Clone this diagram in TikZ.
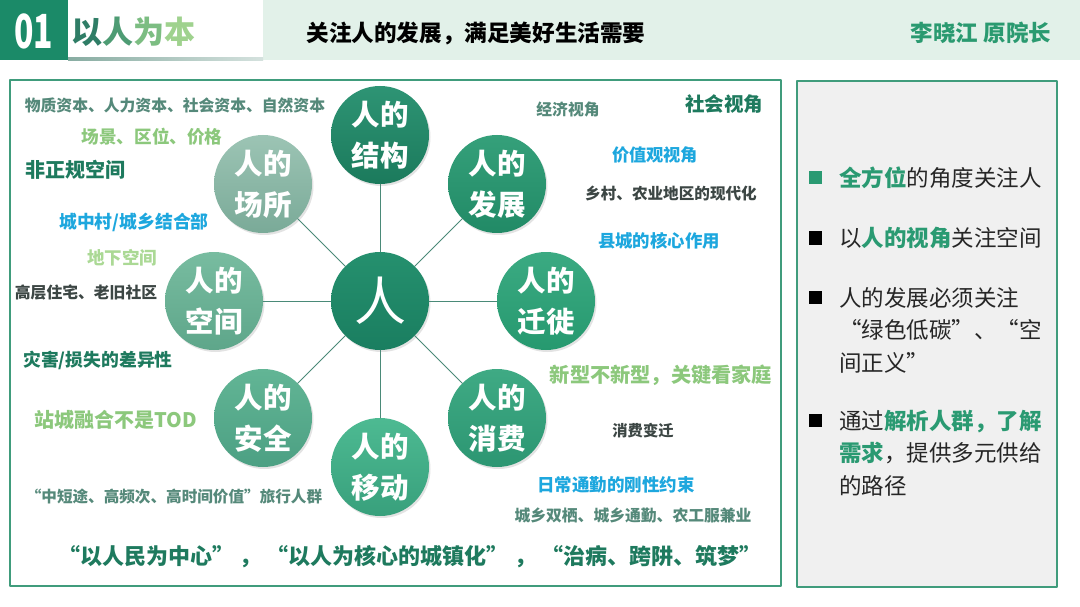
\documentclass[tikz,border=0pt]{standalone}
\usepackage{fontspec}
\setmainfont{Noto Sans CJK SC}
\usetikzlibrary{shadows}

\definecolor{hdgreen}{HTML}{1B8A68}
\definecolor{mint}{HTML}{E2F1E9}
\definecolor{frameG}{HTML}{409C7C}
\definecolor{panel}{HTML}{F0F0F0}
\definecolor{linkG}{HTML}{4A8A78}
\definecolor{tealD}{HTML}{1E7A5E}
\definecolor{grayG}{HTML}{55897A}
\definecolor{lightG}{HTML}{8CC87C}
\definecolor{paleG}{HTML}{ABD995}
\definecolor{skyB}{HTML}{1DA7DE}
\definecolor{darkT}{HTML}{3C4644}
\definecolor{keyG}{HTML}{2A9A72}
\definecolor{author}{HTML}{2A9A70}
% title letters, dark to light
\definecolor{tagA}{HTML}{2F7D66}\definecolor{tagB}{HTML}{4E9C74}
\definecolor{tagC}{HTML}{7CBD82}\definecolor{tagD}{HTML}{9FD28E}
% circle fills, top / bottom
\definecolor{renT}{HTML}{25906E}\definecolor{renB}{HTML}{1A7E60}
\definecolor{jgT}{HTML}{2E9474}\definecolor{jgB}{HTML}{1B7A5C}
\definecolor{fzT}{HTML}{35A07A}\definecolor{fzB}{HTML}{218A66}
\definecolor{qxT}{HTML}{3BAA82}\definecolor{qxB}{HTML}{26996F}
\definecolor{xfT}{HTML}{3FAA84}\definecolor{xfB}{HTML}{2C9672}
\definecolor{ydT}{HTML}{4DBA92}\definecolor{ydB}{HTML}{38A07C}
\definecolor{aqT}{HTML}{62B595}\definecolor{aqB}{HTML}{4CA083}
\definecolor{kjT}{HTML}{78BCA0}\definecolor{kjB}{HTML}{5EA68A}
\definecolor{csT}{HTML}{9CC4B4}\definecolor{csB}{HTML}{7AAA98}

\newcommand\fsz[1]{\fontsize{#1}{#1}\selectfont}

\tikzset{
  lab/.style 2 args={inner sep=0pt, text=#1, font=\bfseries\fsz{#2}},
  bub/.style={circle, minimum size=98pt, inner sep=0pt, top color=#1T, bottom color=#1B,
    text=white, align=center, font=\bfseries\fontsize{28.5}{41}\selectfont,
    drop shadow={opacity=0.22, shadow xshift=1.5pt, shadow yshift=-2pt}},
  link/.style={draw=linkG, line width=1pt},
  frame/.style={draw=frameG, line width=1.6pt},
  bullet/.style={minimum size=13pt, inner sep=0pt, fill=#1},
  note/.style={inner sep=0pt, anchor=west, align=left, text=black!85,
    font=\fontsize{22.5}{32.5}\selectfont},
}

\begin{document}
\begin{tikzpicture}[x=1pt, y=-1pt, line join=round, line cap=round]
  \useasboundingbox[fill=white] (0,0) rectangle (1080,607);

  % header
  \fill[hdgreen] (0,0) rectangle (68,60);
  \fill[mint] (263,0) rectangle (1080,60);
  \shade[left color=grayG!70, right color=grayG!25] (68,57.8) rectangle (263,60.5);
  \node[text=white, font=\bfseries\fsz{47}] (num) at (34,31) {\scalebox{0.68}[1]{01}};
  \node[inner sep=0pt, font=\bfseries\fsz{31}] (tag) at (133,32)
    {\textcolor{tagA}{以}\textcolor{tagB}{人}\textcolor{tagC}{为}\textcolor{tagD}{本}};
  \node[lab={black}{22.6}] (title) at (476,33) {关注人的发展，满足美好生活需要};
  \node[lab={author}{22.5}] (who) at (981,33) {李晓江 原院长};

  % frames
  \draw[frame] (10,80) rectangle (781,586);
  \draw[frame, fill=panel] (797,81) rectangle (1057,587);

  % circles
  \node[bub=ren, font=\fsz{52}] (ren) at (380,301) {人};
  \node[bub=jg] (jg) at (380,135) {人的\\结构};
  \node[bub=fz] (fz) at (497,184) {人的\\发展};
  \node[bub=qx] (qx) at (546,301) {人的\\迁徙};
  \node[bub=xf] (xf) at (497,418) {人的\\消费};
  \node[bub=yd] (yd) at (380,467) {人的\\移动};
  \node[bub=aq] (aq) at (263,418) {人的\\安全};
  \node[bub=kj] (kj) at (214,301) {人的\\空间};
  \node[bub=cs] (cs) at (263,184) {人的\\场所};
  \foreach \n in {jg,fz,qx,xf,yd,aq,kj,cs}
    \draw[link] (ren) -- (\n);

  % left labels
  \node[lab={grayG}{15.8}] (ziben) at (175,105) {物质资本、人力资本、社会资本、自然资本};
  \node[lab={lightG}{17.6}] (qujing) at (152,137) {场景、区位、价格};
  \node[lab={tealD}{20}] (fzg) at (75,170) {非正规空间};
  \node[lab={skyB}{17.8}] (czc) at (134,222) {城中村/城乡结合部};
  \node[lab={paleG}{17.5}] (dxkj) at (122,258) {地下空间};
  \node[lab={darkT}{15.8}] (gczz) at (86,292) {高层住宅、老旧社区};
  \node[lab={tealD}{17.8}] (zaihai) at (98,360) {灾害/损失的差异性};
  \node[lab={lightG}{20}] (tod) at (116,420) {站城融合不是TOD};
  \node[lab={grayG}{15.6}] (lvxing) at (174,497) {“中短途、高频次、高时间价值”旅行人群};

  % right labels
  \node[lab={grayG}{15.8}] (jingji) at (568,110) {经济视角};
  \node[lab={tealD}{19.5}] (shehui) at (724,104) {社会视角};
  \node[lab={skyB}{17.2}] (jiazhi) at (655,155) {价值观视角};
  \node[lab={darkT}{15.6}] (xiangcun) at (671,193) {乡村、农业地区的现代化};
  \node[lab={skyB}{17.4}] (xiancheng) at (659,241) {县城的核心作用};
  \node[lab={lightG}{20.2}] (jiating) at (661,375) {新型不新型，关键看家庭};
  \node[lab={darkT}{15.3}] (xiaofei) at (643,431) {消费变迁};
  \node[lab={skyB}{17.5}] (tongqin) at (616,485) {日常通勤的刚性约束};
  \node[lab={grayG}{15.8}] (shuangqi) at (633,515) {城乡双栖、城乡通勤、农工服兼业};

  % bottom line
  \node[lab={tealD}{22}] (slogan) at (410,557)
    {“以人民为中心”\ ，\ “以人为核心的城镇化”\ ，\ “治病、跨阱、筑梦”};

  % right panel
  \node[bullet=keyG] (b1) at (815,178) {};
  \node[bullet=black] (b2) at (815,238) {};
  \node[bullet=black] (b3) at (815,297) {};
  \node[bullet=black] (b4) at (815,420) {};
  \node[note] (t1) at (839,178) {\textcolor{keyG}{\bfseries 全方位}的角度关注人};
  \node[note] (t2) at (839,238) {以\textcolor{keyG}{\bfseries 人的视角}关注空间};
  \node[note] (t3) at (839,330) {人的发展必须关注\\“绿色低碳”、“空\\间正义”};
  \node[note] (t4) at (839,453) {通过\textcolor{keyG}{\bfseries 解析人群，了解}\\\textcolor{keyG}{\bfseries 需求}，提供多元供给\\的路径};
\end{tikzpicture}
\end{document}
